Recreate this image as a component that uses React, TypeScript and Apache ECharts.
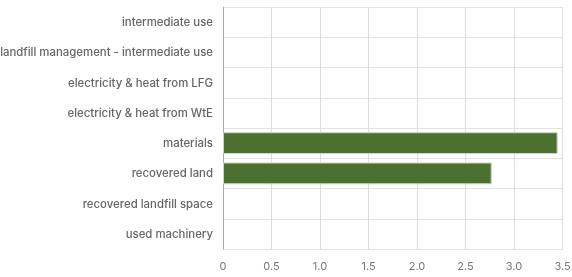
import React, { useEffect, useRef } from "react";
import * as echarts from "echarts";

const categories = [
  "intermediate use",
  "landfill management - intermediate use",
  "electricity & heat from LFG",
  "electricity & heat from WtE",
  "materials",
  "recovered land",
  "recovered landfill space",
  "used machinery",
];
const values = [0, 0, 0, 0, 3.45, 2.77, 0, 0];
const xTicks = [0, 0.5, 1.0, 1.5, 2.0, 2.5, 3.0, 3.5];

export default function App() {
  const ref = useRef<HTMLDivElement>(null);
  useEffect(() => {
    const chart = echarts.init(ref.current!, null, { renderer: "svg" });
    chart.setOption({
      animation: false,
      grid: {
        left: 223,
        right: 9.5,
        top: 7,
        bottom: 28,
        containLabel: false,
        outerBoundsMode: "none",
      },
      xAxis: {
        type: "value",
        min: 0,
        max: 3.5,
        interval: 0.5,
        axisLine: { show: false },
        axisTick: { show: false },
        splitLine: { show: true, lineStyle: { color: "#dddddd", width: 1 } },
        axisLabel: {
          color: "#777",
          fontFamily: "Inter",
          fontSize: 11,
          margin: 11,
          formatter: (v: number) => {
            const t = xTicks.find((x) => Math.abs(x - v) < 1e-9);
            return t === 0 ? "0" : t !== undefined ? t.toFixed(1) : "";
          },
        },
      },
      yAxis: {
        type: "category",
        data: categories,
        inverse: true,
        axisLine: { show: true, lineStyle: { color: "#aaaaaa" } },
        axisTick: { show: false },
        splitLine: { show: true, lineStyle: { color: "#e3e3e3", width: 1 } },
        axisLabel: {
          color: "#666",
          fontFamily: "Inter",
          fontSize: 11.4,
          fontWeight: 500,
          margin: 10,
        },
      },
      series: [
        {
          type: "bar",
          data: values.map((v) => ({
            value: v,
            itemStyle: v === 0 ? { borderWidth: 0 } : undefined,
          })),
          barCategoryGap: "28%",
          itemStyle: {
            color: "#4b7030",
            borderColor: "#c9d6bf",
            borderWidth: 1,
          },
        },
      ],
    });
    return () => chart.dispose();
  }, []);
  return (
    <div
      ref={ref}
      style={{ position: "fixed", left: 0, top: 0, width: 572, height: 277 }}
    />
  );
}
